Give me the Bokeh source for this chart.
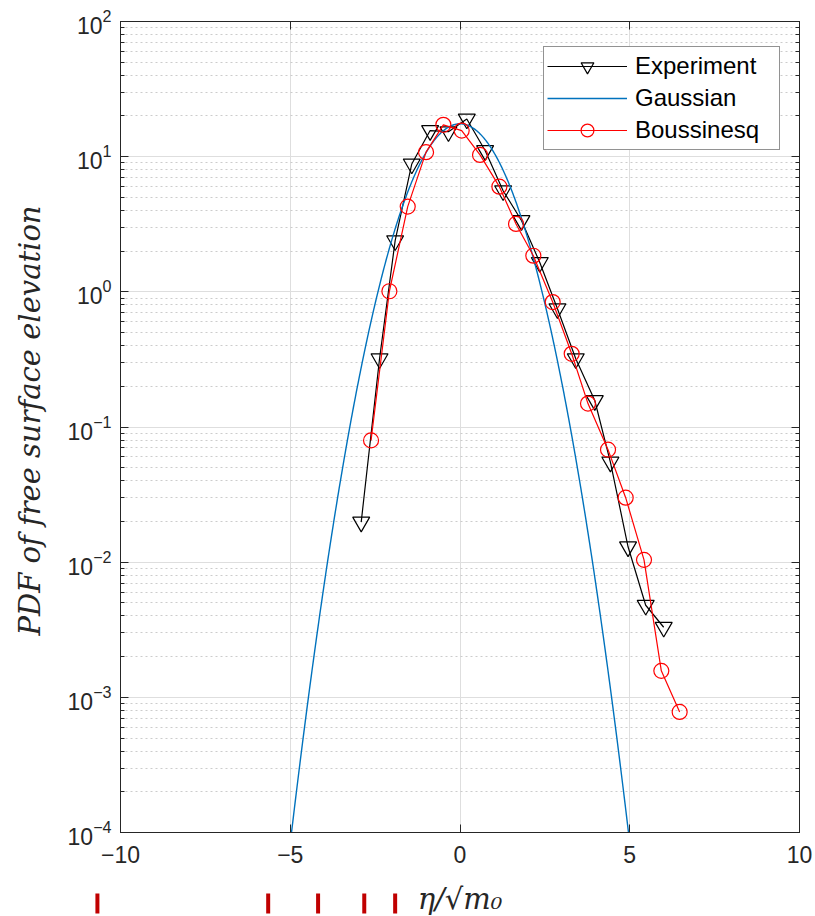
import numpy as np
from bokeh.plotting import figure
from bokeh.layouts import column, row
from bokeh.models import (Range1d, LogAxis, LinearAxis, LogTicker, FixedTicker,
                          Legend, LegendItem, CustomJSTickFormatter)
from bokeh.core.properties import value
from bokeh.embed import file_html
from bokeh.resources import INLINE

# Measured PDF (experiment)
EXP_X = [-2.91, -2.37, -1.91, -1.42, -0.88, -0.34, 0.20, 0.74, 1.27, 1.81,
         2.35, 2.87, 3.41, 3.97, 4.43, 4.95, 5.47, 6.00]
EXP_PDF = [0.0198, 0.320, 2.39, 8.83, 15.6, 15.3, 19.0, 11.1, 5.6, 3.37,
           1.65, 0.75, 0.32, 0.157, 0.055, 0.0130, 0.0048, 0.0033]

# Boussinesq model PDF
BOUS_X = [-2.62, -2.08, -1.54, -1.00, -0.49, 0.05, 0.59, 1.16, 1.65, 2.16,
          2.73, 3.29, 3.77, 4.36, 4.88, 5.42, 5.93, 6.47]
BOUS_PDF = [0.0796, 1.01, 4.27, 10.8, 17.2, 15.6, 10.3, 6.0, 3.18, 1.85,
            0.84, 0.348, 0.149, 0.068, 0.030, 0.0104, 0.00157, 0.00078]

# Gaussian reference distribution
GAUSS_PEAK = 17.5
GAUSS_SIGMA = 1.01

# Marker positions along the eta axis shown under the plot
MARK_X = [-10.68, -5.65, -4.18, -2.82, -1.91]

X_TICKS = [-10, -5, 0, 5, 10]

AX_COLOR = "#262626"
SANS = "Liberation Sans"
SERIF = "DejaVu Serif"

W = 815
STRIP_W = 50                      # column holding the y title
FRAME_L, FRAME_R, FRAME_T, FRAME_B = 120, 16, 21, 832
X0, X1 = -10, 10
H1, H2 = 878, 38

p = figure(width=W - STRIP_W, height=H1, x_range=Range1d(X0, X1),
           y_range=Range1d(1e-4, 1e2),
           y_axis_type="log", output_backend="svg", toolbar_location=None,
           min_border_left=FRAME_L - STRIP_W, min_border_right=FRAME_R,
           min_border_top=FRAME_T, min_border_bottom=H1 - FRAME_B,
           background_fill_color="white", border_fill_color="white")
p.frame_align = False
p.outline_line_color = AX_COLOR

# grid
p.xgrid.ticker = FixedTicker(ticks=X_TICKS)
p.xgrid.grid_line_color = "#dedede"
p.ygrid.grid_line_color = "#dedede"
p.ygrid.minor_grid_line_color = "#cccccc"
p.ygrid.minor_grid_line_dash = "2 3"

# bottom and left axes
xa = p.xaxis[0]
xa.ticker = FixedTicker(ticks=X_TICKS)
ya = p.yaxis[0]
ya.ticker = LogTicker(desired_num_ticks=7, num_minor_ticks=10)
p.ygrid.ticker = ya.ticker
for ax in (xa, ya):
    ax.axis_line_color = AX_COLOR
    ax.major_tick_line_color = AX_COLOR
    ax.minor_tick_line_color = AX_COLOR
    ax.major_tick_in = 8
    ax.major_tick_out = 0
    ax.minor_tick_in = 4
    ax.minor_tick_out = 0
    ax.major_label_text_font = SANS
    ax.major_label_text_font_size = "23px"
    ax.major_label_text_color = AX_COLOR
xa.minor_tick_line_color = None
xa.major_label_standoff = 13
ya.major_label_standoff = 9

# box ticks on top and right
blank = CustomJSTickFormatter(code="return ''")
top = LinearAxis(ticker=FixedTicker(ticks=X_TICKS), formatter=blank,
                 major_tick_in=8, major_tick_out=0, minor_tick_line_color=None,
                 axis_line_color=AX_COLOR, major_tick_line_color=AX_COLOR,
                 major_label_standoff=0)
right = LogAxis(ticker=LogTicker(desired_num_ticks=7, num_minor_ticks=10), formatter=blank,
                major_tick_in=8, major_tick_out=0, minor_tick_in=4, minor_tick_out=0,
                axis_line_color=AX_COLOR, major_tick_line_color=AX_COLOR,
                minor_tick_line_color=AX_COLOR, major_label_standoff=0)
p.add_layout(top, "above")
p.add_layout(right, "right")

# curves
exp_line = p.line(EXP_X, EXP_PDF, line_color="black", line_width=1.2)
exp_pts = p.scatter(EXP_X, EXP_PDF, marker="inverted_triangle", size=17,
                    line_color="black", line_width=1.2, fill_color=None)

gx = np.linspace(-6, 6, 601)
gy = GAUSS_PEAK * np.exp(-gx ** 2 / (2 * GAUSS_SIGMA ** 2))
gauss_line = p.line(gx, gy, line_color="#0072BD", line_width=1.4)

bous_line = p.line(BOUS_X, BOUS_PDF, line_color="#FF0000", line_width=1.2)
bous_pts = p.scatter(BOUS_X, BOUS_PDF, marker="circle", size=15,
                     line_color="#FF0000", line_width=1.2, fill_color=None)

legend = Legend(items=[
    LegendItem(label="Experiment", renderers=[exp_line, exp_pts]),
    LegendItem(label="Gaussian", renderers=[gauss_line]),
    LegendItem(label="Boussinesq", renderers=[bous_line, bous_pts]),
], location=(423, 682))
legend.glyph_width = 80
legend.glyph_height = 32
legend.label_height = 32
legend.label_width = 141
legend.spacing = 0
legend.padding = 3
legend.margin = 0
legend.label_standoff = 8
legend.label_text_font = SANS
legend.label_text_font_size = "24px"
legend.label_text_color = "black"
legend.label_text_baseline = "middle"
legend.border_line_color = AX_COLOR
legend.border_line_width = 1
legend.background_fill_alpha = 1
p.add_layout(legend)

# left strip: y title, written bottom to top
s = figure(width=STRIP_W, height=H1, x_range=Range1d(0, STRIP_W), y_range=Range1d(0, H1),
           output_backend="svg", toolbar_location=None, min_border=0,
           min_border_left=0, min_border_right=0, min_border_top=0, min_border_bottom=0,
           border_fill_color="white")
s.frame_align = False
s.axis.visible = False
s.grid.visible = False
s.outline_line_color = None
s.text(x=[29], y=[H1 - 420], text=["PDF of free surface elevation"], angle=np.pi / 2,
       text_align="center", text_baseline="middle", text_font=value(SERIF),
       text_font_style="italic", text_font_size="29px", text_color=AX_COLOR)

# strip below the axis: markers along eta and the axis title
frame_w = W - FRAME_L - FRAME_R
scale = frame_w / (X1 - X0)
q = figure(width=W, height=H2,
           x_range=Range1d(X0 - FRAME_L / scale, X1 + FRAME_R / scale),
           y_range=Range1d(0, H2), output_backend="svg", toolbar_location=None,
           min_border=0, min_border_left=0, min_border_right=0,
           min_border_top=0, min_border_bottom=0, border_fill_color="white")
q.frame_align = False
q.axis.visible = False
q.grid.visible = False
q.outline_line_color = None
q.segment(x0=MARK_X, y0=3, x1=MARK_X, y1=23, line_color="#C00000", line_width=4)
q.text(x=[0], y=[18], text=["η/√m₀"], text_align="center", text_baseline="middle",
       text_font=value(SERIF), text_font_style="italic", text_font_size="29px",
       text_color=AX_COLOR)

layout = column(row(s, p, spacing=0), q, spacing=0)
open("out.html", "w").write(file_html(layout, INLINE))
